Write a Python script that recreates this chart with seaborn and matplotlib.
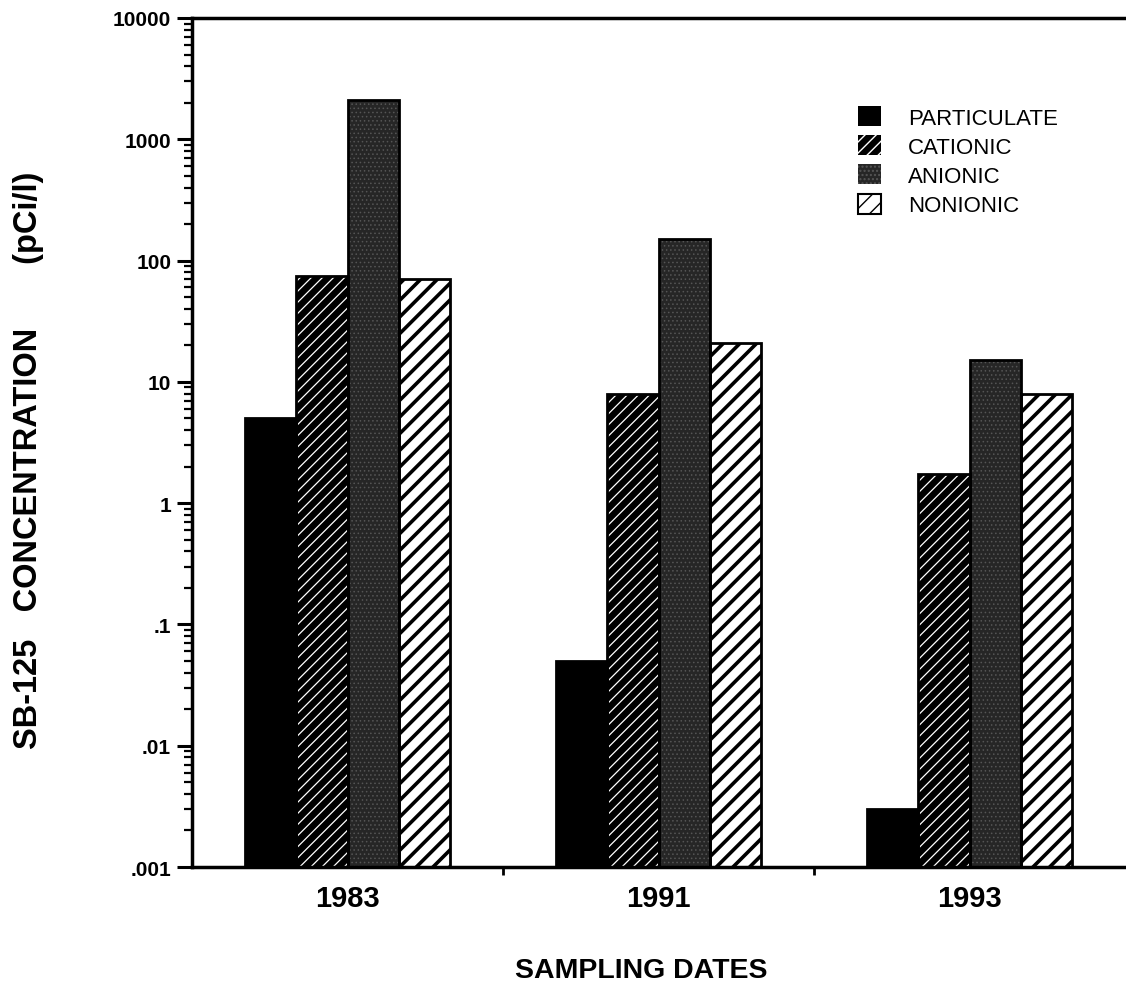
import matplotlib
matplotlib.use("Agg")
import matplotlib.pyplot as plt
import matplotlib.patches as mpatches
from matplotlib.ticker import FixedLocator, NullFormatter
import numpy as np
import pandas as pd
import seaborn as sns

# ---- data ----
dates = ["1983", "1991", "1993"]
species = ["PARTICULATE", "CATIONIC", "ANIONIC", "NONIONIC"]
particulate = [5.0, 0.05, 0.003]
cationic = [75.0, 8.0, 1.75]
anionic = [2100.0, 150.0, 15.0]
nonionic = [70.0, 21.0, 8.0]
ytick_values = [0.001, 0.01, 0.1, 1, 10, 100, 1000, 10000]
ytick_labels = [".001", ".01", ".1", "1", "10", "100", "1000", "10000"]

series = {"PARTICULATE": particulate, "CATIONIC": cationic,
          "ANIONIC": anionic, "NONIONIC": nonionic}
rows = []
for sp in species:
    for d, v in zip(dates, series[sp]):
        rows.append({"date": d, "species": sp, "value": v})
df = pd.DataFrame(rows)

sns.set_theme(style="white")
plt.rcParams["font.family"] = ["Liberation Sans", "DejaVu Sans"]
plt.rcParams["hatch.linewidth"] = 1.0
plt.rcParams["text.color"] = "black"
plt.rcParams["axes.labelcolor"] = "black"
plt.rcParams["xtick.color"] = "black"
plt.rcParams["ytick.color"] = "black"

fig = plt.figure(figsize=(11.26, 9.87), dpi=100)
ax = fig.add_axes([192 / 1126, 1 - 868 / 987, 933 / 1126, (868 - 19) / 987])

sns.barplot(data=df, x="date", y="value", hue="species", order=dates,
            hue_order=species, ax=ax, width=0.66, legend=False,
            saturation=1, errorbar=None, log_scale=(False, True))
ax.set_yscale("log")

styles = {
    "PARTICULATE": dict(face="black", hatch=None, hcol="black", hlw=1.0),
    "CATIONIC": dict(face="black", hatch="///", hcol="white", hlw=0.9),
    "ANIONIC": dict(face="#262626", hatch="....", hcol="#555555", hlw=0.6),
    "NONIONIC": dict(face="white", hatch="//", hcol="black", hlw=2.6),
}

def style_patch(p, st):
    p.set_facecolor(st["face"])
    if st["hatch"]:
        p.set_hatch(st["hatch"])
        p.set_edgecolor(st["hcol"])
        if hasattr(p, "set_hatch_linewidth"):
            p.set_hatch_linewidth(st["hlw"])
    else:
        p.set_edgecolor("black")
    p.set_linewidth(0)

bars = list(ax.patches)
n = len(dates)
outlines = []
for i, p in enumerate(bars):
    sp = species[i // n]
    style_patch(p, styles[sp])
    outlines.append(mpatches.Rectangle((p.get_x(), p.get_y()), p.get_width(),
                                       p.get_height(), fill=False,
                                       edgecolor="black", linewidth=2.0, zorder=p.get_zorder() + 0.1))
for o in outlines:
    ax.add_patch(o)

ax.set_ylim(0.001, 10000)
ax.set_xlim(-0.5, 2.5)
ax.set_yticks(ytick_values)
ax.set_yticklabels(ytick_labels)
minors = []
for dec in ytick_values[:-1]:
    for k in range(2, 10):
        minors.append(dec * k)
ax.yaxis.set_minor_locator(FixedLocator(minors))
ax.yaxis.set_minor_formatter(NullFormatter())
ax.tick_params(axis="y", which="major", direction="out", length=11, width=2.2,
               labelsize=15, pad=4, left=True, color="black", labelcolor="black")
ax.tick_params(axis="y", which="minor", direction="out", length=6, width=1.6,
               left=True, color="black")
ax.set_xticks(range(len(dates)))
ax.set_xticklabels(dates)
ax.xaxis.set_minor_locator(FixedLocator([0.5, 1.5]))
ax.tick_params(axis="x", which="major", length=0, labelsize=21, pad=12, labelcolor="black")
ax.tick_params(axis="x", which="minor", direction="out", length=6, width=2,
               bottom=True, color="black")
for lab in ax.get_xticklabels() + ax.get_yticklabels():
    lab.set_fontweight("bold")

for s in ["left", "bottom", "top"]:
    ax.spines[s].set_visible(True)
    ax.spines[s].set_color("black")
    ax.spines[s].set_linewidth(2.5)
ax.spines["right"].set_visible(False)

ax.set_xlabel("SAMPLING DATES", fontsize=20.5, fontweight="bold", color="black")
ax.xaxis.set_label_coords((641 - 192) / 933, (868 - 958) / 849)
ax.set_ylabel("SB-125   CONCENTRATION       (pCi/l)", fontsize=23.5,
              fontweight="bold", color="black")
ax.yaxis.set_label_coords((44 - 192) / 933, (868 - 460) / 849)

handles = []
for sp in species:
    h = mpatches.Patch(label=sp)
    style_patch(h, styles[sp])
    if sp == "NONIONIC":
        h.set_linewidth(1.5)
    handles.append(h)
leg = ax.legend(handles=handles, loc="upper left",
                bbox_to_anchor=((858 - 192) / 933, (868 - 107) / 849),
                frameon=False, fontsize=16, handlelength=1.05, handleheight=1.0,
                handletextpad=1.2, labelspacing=0.3, borderaxespad=0, borderpad=0)
for t in leg.get_texts():
    t.set_color("black")

ax.grid(False)
fig.savefig("out.png", dpi=100, facecolor="white")
